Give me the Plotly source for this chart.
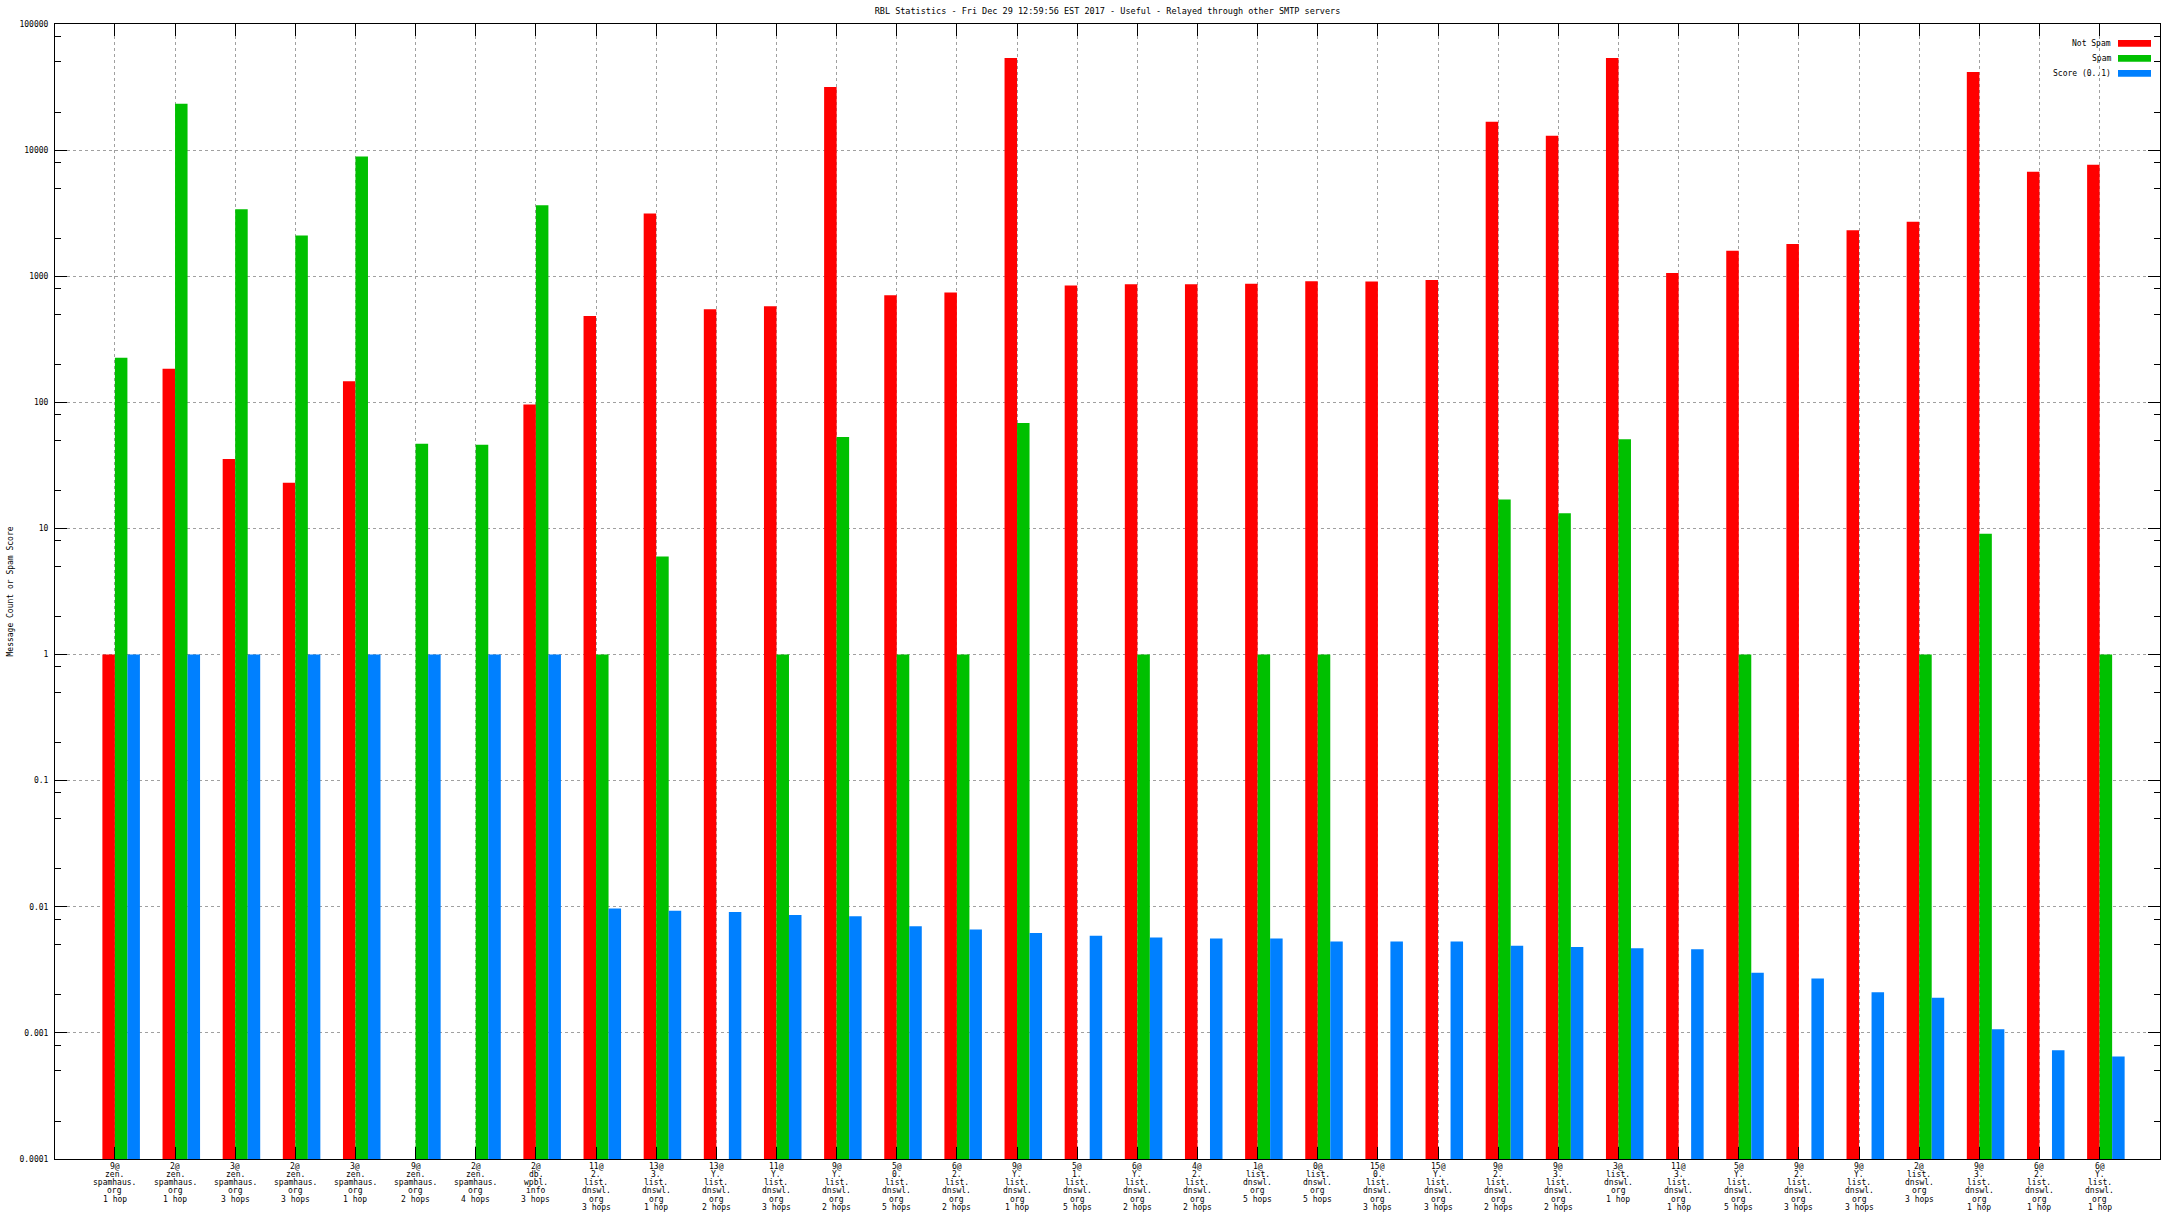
import plotly.graph_objects as go

categories = [
    "9@|zen.|spamhaus.|org|1 hop",
    "2@|zen.|spamhaus.|org|1 hop",
    "3@|zen.|spamhaus.|org|3 hops",
    "2@|zen.|spamhaus.|org|3 hops",
    "3@|zen.|spamhaus.|org|1 hop",
    "9@|zen.|spamhaus.|org|2 hops",
    "2@|zen.|spamhaus.|org|4 hops",
    "2@|db.|wpbl.|info|3 hops",
    "11@|2.|list.|dnswl.|org|3 hops",
    "13@|3.|list.|dnswl.|org|1 hop",
    "13@|Y.|list.|dnswl.|org|2 hops",
    "11@|Y.|list.|dnswl.|org|3 hops",
    "9@|Y.|list.|dnswl.|org|2 hops",
    "5@|0.|list.|dnswl.|org|5 hops",
    "6@|2.|list.|dnswl.|org|2 hops",
    "9@|Y.|list.|dnswl.|org|1 hop",
    "5@|1.|list.|dnswl.|org|5 hops",
    "6@|Y.|list.|dnswl.|org|2 hops",
    "4@|2.|list.|dnswl.|org|2 hops",
    "1@|list.|dnswl.|org|5 hops",
    "0@|list.|dnswl.|org|5 hops",
    "15@|0.|list.|dnswl.|org|3 hops",
    "15@|Y.|list.|dnswl.|org|3 hops",
    "9@|2.|list.|dnswl.|org|2 hops",
    "9@|3.|list.|dnswl.|org|2 hops",
    "3@|list.|dnswl.|org|1 hop",
    "11@|3.|list.|dnswl.|org|1 hop",
    "5@|Y.|list.|dnswl.|org|5 hops",
    "9@|2.|list.|dnswl.|org|3 hops",
    "9@|Y.|list.|dnswl.|org|3 hops",
    "2@|list.|dnswl.|org|3 hops",
    "9@|3.|list.|dnswl.|org|1 hop",
    "6@|2.|list.|dnswl.|org|1 hop",
    "6@|Y.|list.|dnswl.|org|1 hop",
]

not_spam = [1, 185, 35.5, 23, 147, None, None, 96, 483, 3150, 548, 577, 31600,
            707, 743, 53700, 844, 865, 865, 870, 911, 910, 933, 16800, 13000,
            53700, 1060, 1590, 1800, 2320, 2700, 41700, 6730, 7640]
spam = [226, 23300, 3400, 2100, 8900, 47, 46, 3660, 1, 6.0, None, 1, 53, 1, 1,
        68.7, None, 1, None, 1, 1, None, None, 17, 13.2, 51, None, 1, None, None,
        1, 9.06, None, 1]
score = [1, 1, 1, 1, 1, 1, 1, 1, 0.0097, 0.0093, 0.0091, 0.0086, 0.0084, 0.0070,
         0.0066, 0.0062, 0.0059, 0.0057, 0.0056, 0.0056, 0.0053, 0.0053, 0.0053,
         0.0049, 0.0048, 0.0047, 0.0046, 0.0030, 0.0027, 0.0021, 0.0019, 0.00107,
         0.00073, 0.00065]

series_names = ["Not Spam", "Spam", "Score (0..1)"]
colors = ["#ff0000", "#00c000", "#0080ff"]

y_tickvals = [1e-4, 1e-3, 1e-2, 1e-1, 1, 10, 100, 1000, 10000, 100000]
y_ticktext = ["0.0001", "0.001", "0.01", "0.1", "1", "10", "100", "1000", "10000", "100000"]

title = "RBL Statistics - Fri Dec 29 12:59:56 EST 2017 - Useful - Relayed through other SMTP servers"

FONT = "DejaVu Sans Mono"
W, H = 2176, 1224
ML, MR, MT, MB = 55, 16, 24, 65
BARGAP = 0.376
bw = (1 - BARGAP) / 3
pw = W - ML - MR
ph = H - MT - MB


def px_x(px):
    return (px - ML) / pw


def px_y(py):
    return 1 - (py - MT) / ph


x = list(range(len(categories)))
tick_pos = [i - bw / 2 for i in x]

fig = go.Figure()
for name, vals, c in zip(series_names, [not_spam, spam, score], colors):
    fig.add_trace(go.Bar(x=x, y=vals, name=name, marker=dict(color=c, line=dict(width=0)),
                         showlegend=False))

minor_vals = []
for e in range(-4, 5):
    for m in (2, 5, 8):
        minor_vals.append(m * 10 ** e)

fig.update_layout(
    width=W, height=H,
    margin=dict(l=ML, r=MR, t=MT, b=MB),
    paper_bgcolor="white", plot_bgcolor="white",
    barmode="group", bargap=BARGAP, bargroupgap=0,
    font=dict(family=FONT, size=8, color="black"),
    title=dict(text=title, x=(ML + pw / 2) / W, xanchor="center",
               y=1 - 11 / H, yanchor="middle", font=dict(family=FONT, size=8.5)),
)
fig.update_xaxes(
    range=[-1.1, 33.9],
    tickmode="array", tickvals=tick_pos, showticklabels=False,
    ticks="inside", ticklen=12, tickcolor="black", tickwidth=1,
    showline=True, linecolor="black", linewidth=1, mirror="ticks",
    showgrid=True, gridcolor="#a0a0a0", griddash="3px,3px", gridwidth=1,
    zeroline=False, automargin=False,
)
fig.update_yaxes(
    type="log", range=[-4, 5],
    tickmode="array", tickvals=y_tickvals, ticktext=y_ticktext,
    ticks="inside", ticklen=12, tickcolor="black", tickwidth=1,
    minor=dict(tickmode="array", tickvals=minor_vals, ticks="inside", ticklen=6,
               tickcolor="black", showgrid=False),
    showline=True, linecolor="black", linewidth=1, mirror="ticks",
    showgrid=True, gridcolor="#a0a0a0", griddash="3px,3px", gridwidth=1,
    zeroline=False, automargin=False, ticklabelstandoff=4,
    tickfont=dict(family=FONT, size=8),
)

# multi-line category labels, tight line spacing like gnuplot
LINE0, LINE_STEP = 1166, 8.3
for xp, lab in zip(tick_pos, categories):
    for k, line in enumerate(lab.split("|")):
        fig.add_annotation(text=line, xref="x", yref="paper", x=xp,
                           y=px_y(LINE0 + k * LINE_STEP), xanchor="center",
                           yanchor="middle", showarrow=False,
                           font=dict(family=FONT, size=8))

# y-axis title
fig.add_annotation(text="Message Count or Spam Score", xref="paper", yref="paper",
                   x=px_x(10), y=0.5, textangle=-90,
                   showarrow=False, xanchor="center", yanchor="middle",
                   font=dict(family=FONT, size=8))

# gnuplot-style legend: text right-aligned, swatch on the right
for k, (name, c) in enumerate(zip(series_names, colors)):
    yc = 43.3 + k * 15
    fig.add_annotation(text=name, xref="paper", yref="paper", x=px_x(2113), y=px_y(yc),
                       xanchor="right", yanchor="middle", showarrow=False,
                       font=dict(family=FONT, size=8))
    fig.add_shape(type="rect", xref="paper", yref="paper",
                  x0=px_x(2118), x1=px_x(2151), y0=px_y(yc - 3.4), y1=px_y(yc + 3.4),
                  fillcolor=c, line=dict(width=0))

fig.write_html("out.html", config={"displayModeBar": False},
               post_script="document.body.style.margin='0';document.body.style.overflow='hidden';")
